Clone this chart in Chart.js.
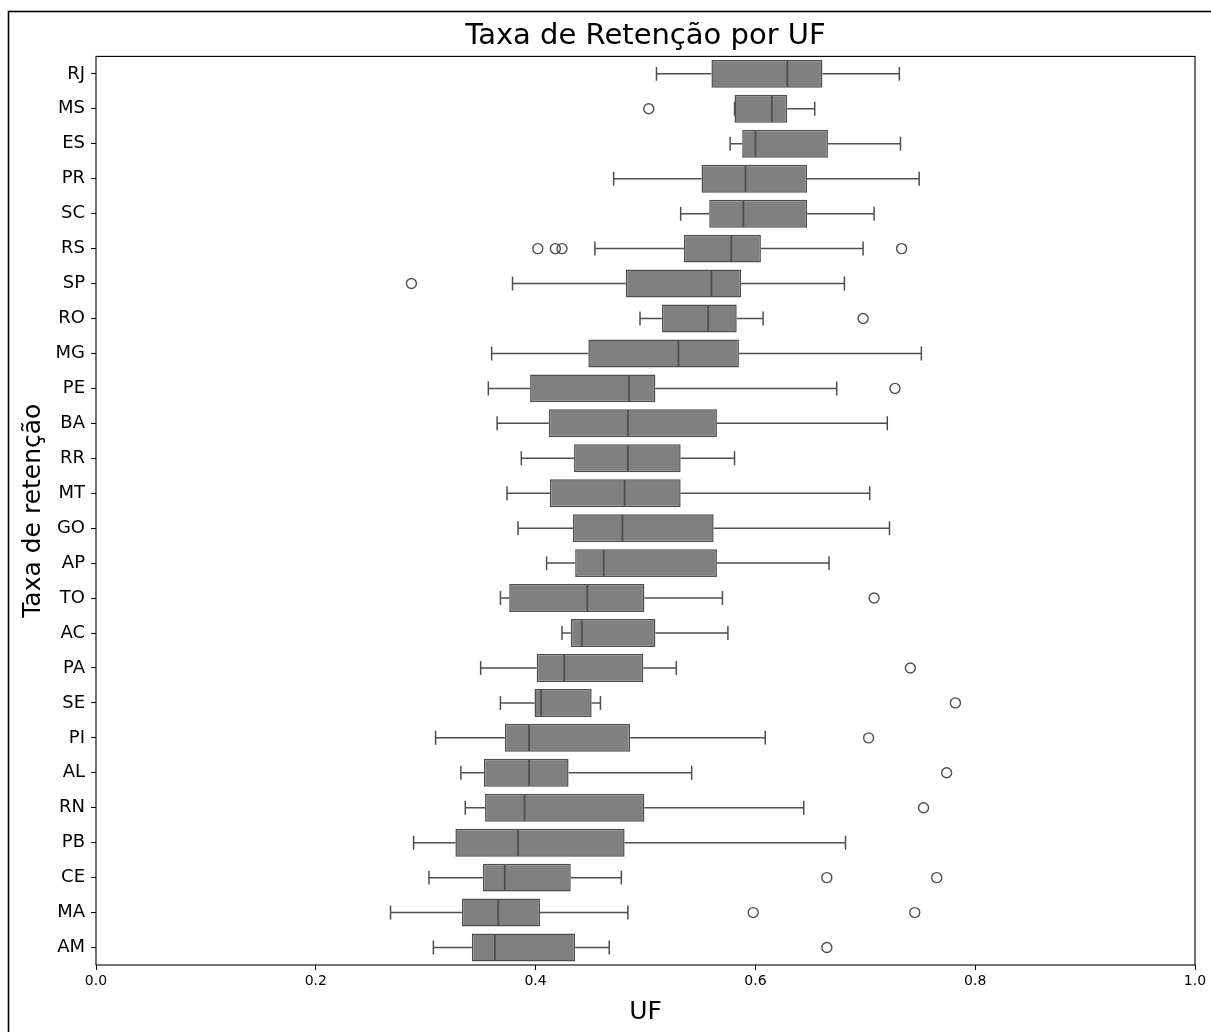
<!DOCTYPE html>
<html>
<head>
<meta charset="utf-8">
<script src="https://cdn.jsdelivr.net/npm/chart.js@4/dist/chart.umd.min.js"></script>
<style>
  html, body { margin: 0; padding: 0; background: #ffffff; }
  #wrap { width: 1211px; height: 1032px; position: relative; }
</style>
</head>
<body>
<div id="wrap"><canvas id="c" width="1211" height="1032"></canvas></div>
<script>
// ---- Data ----
const categories = ['RJ','MS','ES','PR','SC','RS','SP','RO','MG','PE','BA','RR','MT','GO','AP','TO','AC','PA','SE','PI','AL','RN','PB','CE','MA','AM'];
const whiskerLow  = [0.510,0.581,0.577,0.471,0.532,0.454,0.379,0.495,0.360,0.357,0.365,0.387,0.374,0.384,0.410,0.368,0.424,0.350,0.368,0.309,0.332,0.336,0.289,0.303,0.268,0.307];
const q1Values    = [0.560,0.581,0.588,0.551,0.558,0.535,0.482,0.515,0.448,0.395,0.412,0.435,0.413,0.434,0.436,0.376,0.432,0.401,0.399,0.372,0.353,0.354,0.327,0.352,0.333,0.342];
const medianValues= [0.629,0.615,0.600,0.591,0.589,0.578,0.560,0.557,0.530,0.485,0.484,0.484,0.481,0.479,0.462,0.447,0.442,0.426,0.405,0.394,0.394,0.390,0.384,0.372,0.366,0.363];
const q3Values    = [0.661,0.629,0.666,0.647,0.647,0.605,0.587,0.583,0.585,0.509,0.565,0.532,0.532,0.562,0.565,0.499,0.509,0.498,0.451,0.486,0.430,0.499,0.481,0.432,0.404,0.436];
const whiskerHigh = [0.731,0.654,0.732,0.749,0.708,0.698,0.681,0.607,0.751,0.674,0.720,0.581,0.704,0.722,0.667,0.570,0.575,0.528,0.459,0.609,0.542,0.644,0.682,0.478,0.484,0.467];
const outlierCategories = ['MS','RS','RS','RS','RS','SP','RO','PE','TO','PA','SE','PI','AL','RN','CE','CE','MA','MA','AM'];
const outlierValues     = [0.503,0.402,0.418,0.424,0.733,0.287,0.698,0.727,0.708,0.741,0.782,0.703,0.774,0.753,0.665,0.765,0.598,0.745,0.665];
const xTickValues = [0.0, 0.2, 0.4, 0.6, 0.8, 1.0];

const LINE = '#4f4f4f';
const FILL = '#808080';
const FONT = "'DejaVu Sans', sans-serif";

const boxParts = {
  id: 'boxParts',
  beforeDraw(chart) {
    const ctx = chart.ctx;
    ctx.save();
    ctx.fillStyle = '#ffffff';
    ctx.fillRect(0, 0, chart.width, chart.height);
    ctx.strokeStyle = '#000000';
    ctx.lineWidth = 1.6;
    ctx.strokeRect(8.5, 11.5, chart.width + 40, chart.height + 40);
    ctx.restore();
  },
  beforeDatasetsDraw(chart) {
    const ctx = chart.ctx, xs = chart.scales.x, ys = chart.scales.y;
    const band = ys.getPixelForValue(1) - ys.getPixelForValue(0);
    const cap = band * 0.2;
    ctx.save();
    ctx.strokeStyle = LINE;
    ctx.lineWidth = 1.5;
    categories.forEach((c, i) => {
      const y = ys.getPixelForValue(i);
      const xl = xs.getPixelForValue(whiskerLow[i]);
      const x1 = xs.getPixelForValue(q1Values[i]);
      const x3 = xs.getPixelForValue(q3Values[i]);
      const xh = xs.getPixelForValue(whiskerHigh[i]);
      ctx.beginPath();
      ctx.moveTo(xl, y); ctx.lineTo(x1, y);
      ctx.moveTo(x3, y); ctx.lineTo(xh, y);
      ctx.moveTo(xl, y - cap); ctx.lineTo(xl, y + cap);
      ctx.moveTo(xh, y - cap); ctx.lineTo(xh, y + cap);
      ctx.stroke();
    });
    ctx.restore();
  },
  afterDatasetsDraw(chart) {
    const ctx = chart.ctx, xs = chart.scales.x, ys = chart.scales.y;
    const band = ys.getPixelForValue(1) - ys.getPixelForValue(0);
    const half = band * 0.4;
    ctx.save();
    ctx.strokeStyle = LINE;
    ctx.lineWidth = 1.8;
    categories.forEach((c, i) => {
      const y = ys.getPixelForValue(i);
      const xm = xs.getPixelForValue(medianValues[i]);
      ctx.beginPath();
      ctx.moveTo(xm, y - half + 0.75); ctx.lineTo(xm, y + half - 0.75);
      ctx.stroke();
    });
    const a = chart.chartArea;
    ctx.strokeStyle = '#000000';
    ctx.lineWidth = 1.1;
    ctx.strokeRect(a.left, a.top, a.right - a.left, a.bottom - a.top);
    ctx.restore();
  }
};

new Chart(document.getElementById('c'), {
  type: 'bar',
  data: {
    labels: categories,
    datasets: [
      {
        type: 'bar',
        data: categories.map((c, i) => [q1Values[i], q3Values[i]]),
        backgroundColor: FILL,
        borderColor: LINE,
        borderWidth: 1.5,
        borderSkipped: false,
        barPercentage: 0.8,
        categoryPercentage: 1.0,
        order: 2
      },
      {
        type: 'scatter',
        indexAxis: 'y',
        data: outlierCategories.map((c, i) => ({ x: outlierValues[i], y: c })),
        xAxisID: 'x',
        yAxisID: 'y',
        pointStyle: 'circle',
        pointRadius: 5,
        pointBorderWidth: 1.4,
        pointBackgroundColor: 'rgba(0,0,0,0)',
        pointBorderColor: LINE,
        showLine: false,
        order: 1
      }
    ]
  },
  options: {
    indexAxis: 'y',
    responsive: false,
    animation: false,
    events: [],
    layout: { padding: { left: 0, right: 16, top: 8, bottom: 0 } },
    plugins: {
      legend: { display: false },
      tooltip: { enabled: false },
      title: {
        display: true,
        fullSize: false,
        text: 'Taxa de Retenção por UF',
        color: '#000000',
        font: { family: FONT, size: 29, weight: 'normal', lineHeight: 1.2 },
        padding: { top: 11, bottom: 2.6 }
      }
    },
    scales: {
      x: {
        type: 'linear',
        min: 0, max: 1,
        afterBuildTicks(s) { s.ticks = xTickValues.map(v => ({ value: v })); },
        afterFit(s) { s.height = 67; },
        border: { display: false },
        grid: { display: true, drawOnChartArea: false, drawTicks: true, tickLength: 5, color: '#000000', lineWidth: 1 },
        ticks: {
          color: '#000000', padding: 3,
          font: { family: FONT, size: 14 },
          maxRotation: 0,
          callback: v => Number(v).toFixed(1)
        },
        title: {
          display: true, text: 'UF', color: '#000000',
          font: { family: FONT, size: 25, lineHeight: 1.2 },
          padding: { top: 0, bottom: 5 }
        }
      },
      y: {
        type: 'category',
        afterFit(s) { s.width = 96; },
        border: { display: false },
        grid: { display: true, offset: false, drawOnChartArea: false, drawTicks: true, tickLength: 5, color: '#000000', lineWidth: 1 },
        ticks: {
          color: '#000000', padding: 6,
          font: { family: FONT, size: 18 },
          autoSkip: false
        },
        title: {
          display: true, text: 'Taxa de retenção', color: '#000000',
          font: { family: FONT, size: 25, lineHeight: 1.2 },
          padding: { top: 18, bottom: 0 }
        }
      }
    }
  },
  plugins: [boxParts]
});
</script>
</body>
</html>
